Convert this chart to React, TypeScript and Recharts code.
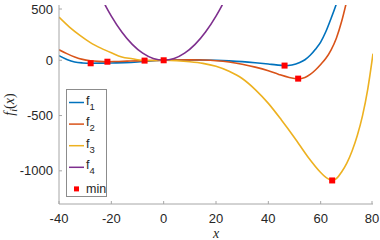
import { ComposedChart, Line, Scatter, XAxis, YAxis, Label } from 'recharts';

// values
const f1X = [-40, -37, -34, -31, -27.9, -24, -20, -15, -10, -5, 0, 5, 10, 15, 20, 25, 30, 35, 40, 43, 46.2, 49, 52, 54, 56, 58, 60, 62, 64, 66, 68];
const f1Y = [42, 8, -15, -24, -27, -26, -24, -22, -16, -6, 0, 3, 4, 3, 0, -5, -12, -22, -34, -42, -48, -42, -20, 5, 45, 100, 165, 260, 380, 510, 660];

const f2X = [-40, -37, -34, -31, -28, -25, -21.5, -18, -14, -10, -5, 0, 5, 10, 15, 20, 25, 30, 35, 40, 44, 48, 51.4, 54, 56, 58, 60, 62, 64, 66, 68, 70];
const f2Y = [95, 60, 30, 8, -4, -10, -13, -11, -8, -5, -2, 0, 3, 4, 2, -4, -16, -36, -62, -95, -128, -155, -166, -155, -128, -88, -38, 18, 95, 200, 350, 540];

const f3X = [-40, -36, -32, -28, -24, -20, -16, -12, -7.3, -4, 0, 5, 10, 15, 20, 25, 30, 35, 40, 45, 50, 55, 60, 62, 64.4, 66, 68, 70, 72, 74, 76, 78, 80];
const f3Y = [390, 300, 225, 160, 110, 68, 30, 14, -3, -2, 0, -4, -13, -28, -55, -100, -165, -265, -390, -540, -700, -870, -1015, -1060, -1087, -1070, -1010, -930, -820, -680, -500, -260, 60];

const f4X = [-24, -22, -20, -16, -12, -8, -4, 0, 4, 8, 12, 16, 20, 22, 24];
const f4Y = [576, 484, 400, 256, 144, 64, 16, 0, 16, 64, 144, 256, 400, 484, 576];

const minX = [-27.9, -21.5, -7.3, 0, 46.2, 51.4, 64.4];
const minY = [-27, -13, -3, 0, -48, -166, -1087];

const xTicks = [-40, -20, 0, 20, 40, 60, 80];
const yTicks = [-1000, -500, 0, 500];

const toPoints = (xs: number[], ys: number[]) => xs.map((x, i) => ({ x, y: ys[i] }));

const series = [
  { name: 'f1', sub: '1', color: '#0072BD', data: toPoints(f1X, f1Y) },
  { name: 'f2', sub: '2', color: '#D95319', data: toPoints(f2X, f2Y) },
  { name: 'f3', sub: '3', color: '#EDB120', data: toPoints(f3X, f3Y) },
  { name: 'f4', sub: '4', color: '#7E2F8E', data: toPoints(f4X, f4Y) },
];
const minPoints = toPoints(minX, minY);

const AXIS = '#a6a6a6';
const TEXT = '#262626';
const SANS = '"Liberation Sans", Arial, sans-serif';
const SERIF = '"Liberation Serif", "DejaVu Serif", serif';

const XTick = ({ x, y, payload }: any) => (
  <g>
    <line x1={x} x2={x} y1={y} y2={y - 3} stroke={AXIS} />
    <text x={x} y={y + 18.5} textAnchor="middle" fill={TEXT} fontSize={13} fontFamily={SANS}>
      {payload.value}
    </text>
  </g>
);

const YTick = ({ x, y, payload }: any) => (
  <g>
    <line x1={x} x2={x + 3} y1={y} y2={y} stroke={AXIS} />
    <text x={x - 6} y={y + 4.5} textAnchor="end" fill={TEXT} fontSize={13} fontFamily={SANS}>
      {payload.value}
    </text>
  </g>
);

const YLabel = ({ viewBox }: any) => {
  const cx = 14;
  const cy = viewBox.y + viewBox.height / 2;
  return (
    <text
      x={cx}
      y={cy}
      transform={`rotate(-90, ${cx}, ${cy})`}
      textAnchor="middle"
      fill={TEXT}
      fontSize={14}
      fontFamily={SERIF}
      fontStyle="italic"
    >
      f<tspan fontSize={10} dy={3}>i</tspan>
      <tspan dy={-3} fontStyle="normal">(</tspan>x<tspan fontStyle="normal">)</tspan>
    </text>
  );
};

const XLabel = ({ viewBox }: any) => (
  <text
    x={viewBox.x + viewBox.width / 2}
    y={237.5}
    textAnchor="middle"
    fill={TEXT}
    fontSize={14}
    fontFamily={SERIF}
    fontStyle="italic"
  >
    x
  </text>
);

const MinMarker = ({ cx, cy }: any) => (
  <rect x={cx - 3} y={cy - 3} width={6} height={6} fill="#FF0000" />
);

function LegendBox() {
  const rowH = 21.6;
  return (
    <div style={{ position: 'absolute', left: 66, top: 89, width: 41, height: 108 }}>
      <svg width={41} height={108} style={{ display: 'block' }}>
        <rect x={0.5} y={0.5} width={40} height={107} fill="#fff" stroke="#8c8c8c" strokeWidth={1} />
        {series.map((s, i) => {
          const y = 13.5 + i * rowH;
          return (
            <g key={s.name}>
              <line x1={3} x2={18} y1={y} y2={y} stroke={s.color} strokeWidth={1.5} />
              <text x={20} y={y + 2} fill={TEXT} fontSize={12.5} fontFamily={SANS}>
                f<tspan fontSize={9.5} dy={5}>{s.sub}</tspan>
              </text>
            </g>
          );
        })}
        <rect x={8} y={13.5 + 4 * rowH - 2.5} width={5} height={5} fill="#FF0000" />
        <text x={20} y={13.5 + 4 * rowH + 4.5} fill={TEXT} fontSize={12.5} fontFamily={SANS}>
          min
        </text>
      </svg>
    </div>
  );
}

export default function App() {
  return (
    <div style={{ position: 'absolute', left: 0, top: 0, width: 380, height: 240, background: '#fff' }}>
      <ComposedChart width={380} height={240} margin={{ top: 5, right: 7, bottom: 0, left: 0 }}>
        <XAxis
          dataKey="x"
          type="number"
          domain={[-40, 80]}
          ticks={xTicks}
          allowDataOverflow
          height={36}
          stroke={AXIS}
          tickLine={false}
          tickSize={0}
          tickMargin={0}
          tick={<XTick />}
        >
          <Label content={<XLabel />} />
        </XAxis>
        <YAxis
          dataKey="y"
          type="number"
          domain={[-1300, 500]}
          ticks={yTicks}
          allowDataOverflow
          width={59}
          stroke={AXIS}
          tickLine={false}
          tickSize={0}
          tickMargin={0}
          tick={<YTick />}
        >
          <Label content={<YLabel />} />
        </YAxis>
        {series.map((s) => (
          <Line
            key={s.name}
            data={s.data}
            dataKey="y"
            name={s.name}
            type="monotone"
            stroke={s.color}
            strokeWidth={1.6}
            dot={false}
            activeDot={false}
            isAnimationActive={false}
          />
        ))}
        <Scatter data={minPoints} dataKey="y" name="min" fill="#FF0000" shape={<MinMarker />} isAnimationActive={false} />
      </ComposedChart>
      <LegendBox />
    </div>
  );
}
